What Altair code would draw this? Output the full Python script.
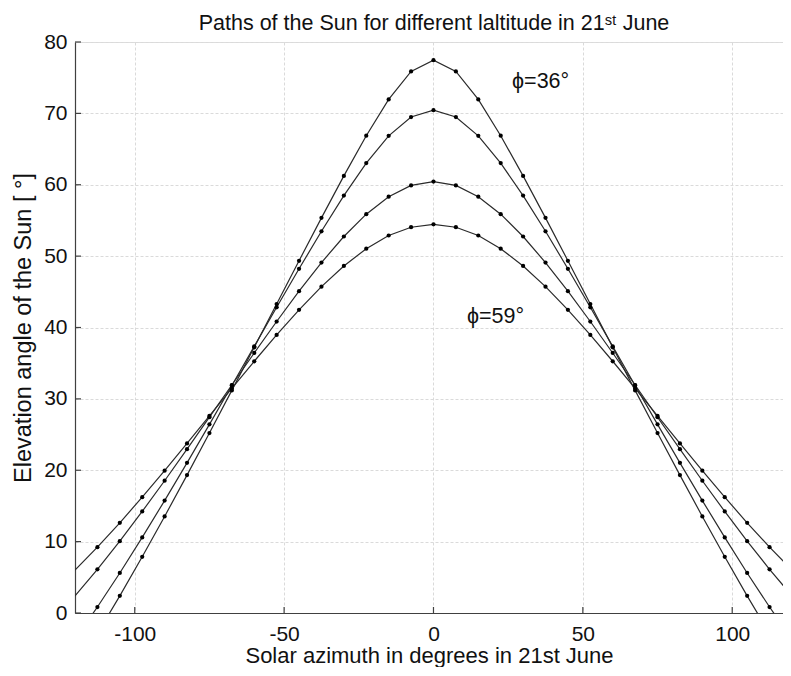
import altair as alt
import pandas as pd

# hour-angle style x positions (labelled "azimuth" in the original), 30-minute steps
x_vals = [-120, -112.5, -105, -97.5, -90, -82.5, -75, -67.5, -60, -52.5, -45, -37.5,
          -30, -22.5, -15, -7.5, 0, 7.5, 15, 22.5, 30, 37.5, 45, 52.5, 60, 67.5,
          75, 82.5, 90, 97.5, 105, 112.5, 120]

# elevation read for x = 0, 7.5, ..., 120 (curves are symmetric about 0)
half_36 = [77.45, 75.87, 71.96, 66.87, 61.24, 55.36, 49.35, 43.29, 37.23, 31.19,
           25.21, 19.32, 13.53, 7.88, 2.40, -2.87, -7.89]
half_43 = [70.45, 69.49, 66.85, 63.03, 58.48, 53.48, 48.23, 42.83, 37.36, 31.88,
           26.43, 21.04, 15.75, 10.59, 5.61, 0.84, -3.67]
half_53 = [60.45, 59.91, 58.33, 55.88, 52.75, 49.10, 45.09, 40.84, 36.43, 31.94,
           27.43, 22.95, 18.53, 14.23, 10.07, 6.12, 2.39]
half_59 = [54.45, 54.05, 52.89, 51.04, 48.62, 45.72, 42.47, 38.96, 35.27, 31.46,
           27.61, 23.75, 19.94, 16.23, 12.64, 9.22, 6.02]

latitudes = ["36", "43", "53", "59"]
halves = [half_36, half_43, half_53, half_59]

x_ticks = [-100, -50, 0, 50, 100]
y_ticks = [0, 10, 20, 30, 40, 50, 60, 70, 80]

label_text = ["\u03d5=36\u00b0", "\u03d5=59\u00b0"]
label_x = [26.3, 11.2]
label_y = [73.6, 40.6]

rows = []
for lat, half in zip(latitudes, halves):
    full = half[::-1] + half[1:]
    for xv, yv in zip(x_vals, full):
        rows.append({"H": xv, "elev": yv, "lat": lat})
df = pd.DataFrame(rows)

FONT = "Liberation Sans"
W, H = 708, 571
GRID = "#dadada"
AX = "#404040"
TXT = "#111111"

x_enc = alt.X(
    "H:Q",
    scale=alt.Scale(domain=[-120, 117], nice=False, zero=False),
    axis=alt.Axis(
        values=x_ticks, title="Solar azimuth in degrees in 21st June",
        labelExpr="replace(datum.label, '\u2212', '-')",
        grid=True, gridColor=GRID, gridDash=[3, 2], gridWidth=1,
        ticks=False, domain=True, domainColor=AX, domainWidth=1.2,
        labelFontSize=21, labelFont=FONT, labelColor=TXT, labelPadding=10,
        titleFontSize=22, titleFont=FONT, titleFontWeight="normal",
        titleColor=TXT, titlePadding=1, labelFlush=False,
    ),
)
y_enc = alt.Y(
    "elev:Q",
    scale=alt.Scale(domain=[0, 80], nice=False, zero=False),
    axis=alt.Axis(
        values=y_ticks, title="Elevation angle of the Sun [ \u00b0]",
        grid=True, gridColor=GRID, gridDash=[3, 2], gridWidth=1,
        ticks=False, domain=True, domainColor=AX, domainWidth=1.2,
        labelFontSize=21, labelFont=FONT, labelColor=TXT, labelPadding=8,
        titleFontSize=23.5, titleFont=FONT, titleFontWeight="normal",
        titleColor=TXT, titlePadding=8, labelFlush=False,
    ),
)

base = alt.Chart(df)
lines = base.mark_line(clip=True, color="#2a2a2a", strokeWidth=1.2).encode(
    x=x_enc, y=y_enc, detail="lat:N"
)
points = base.transform_filter("abs(datum.H) < 120").mark_circle(
    clip=True, color="#000000", size=18, opacity=1
).encode(x=x_enc, y=y_enc, detail="lat:N")

xt = alt.Chart(pd.DataFrame({"H": x_ticks})).mark_rule(
    color=AX, strokeWidth=1.2
).encode(x=x_enc, y=alt.value(H), y2=alt.value(H - 6))
yt = alt.Chart(pd.DataFrame({"elev": y_ticks})).mark_rule(
    color=AX, strokeWidth=1.2
).encode(y=y_enc, x=alt.value(0), x2=alt.value(6))

labels = alt.Chart(
    pd.DataFrame({"H": label_x, "elev": label_y, "t": label_text})
).mark_text(
    align="left", baseline="alphabetic", fontSize=21.5, font=FONT, color=TXT
).encode(x=x_enc, y=y_enc, text="t:N")

chart = alt.layer(lines, points, xt, yt, labels).properties(
    width=W,
    height=H,
    title=alt.Title(
        "Paths of the Sun for different laltitude in 21\u02e2\u1d57 June",
        fontSize=21.5, font=FONT, fontWeight="normal", color=TXT,
        anchor="middle", offset=0, dx=5, dy=3,
    ),
    autosize=alt.AutoSizeParams(type="none"),
    padding={"left": 67, "top": 34, "right": 0, "bottom": 54},
).configure_view(stroke=None).configure(background="white")

chart.save("out.html", embed_options={"renderer": "svg", "actions": False})
